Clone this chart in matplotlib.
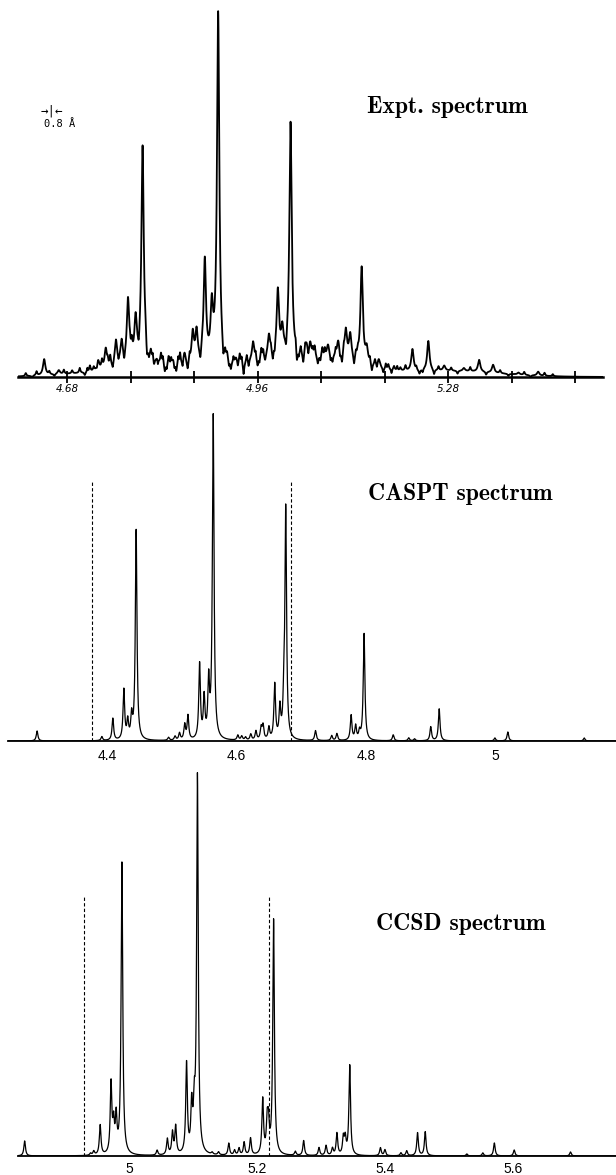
#! /usr/bin/env python

'''
Three stacked spectra: experiment, CASPT and CCSD.
Each spectrum is built as a sum of Lorentzian lines from peak tables
read off the original figure.
'''

import numpy as np
import matplotlib.pyplot as pl

#-----------------------------------------------------------------------------#
# Peak tables (position, height). Heights are in the plot's intensity units.
#-----------------------------------------------------------------------------#

expt_pos = [4.918, 4.799, 5.032, 5.144, 4.897, 4.908, 5.012, 4.776, 4.788,
            4.757, 4.766, 5.224, 5.249, 4.644, 5.329, 5.351, 4.878, 4.884,
            4.973, 4.998, 5.019, 5.119, 5.126, 5.152, 5.171, 5.063, 5.107,
            5.091, 5.057, 4.946, 4.865, 4.847, 4.822, 4.741, 4.729, 5.422,
            5.391, 5.274, 5.305, 4.667]
expt_amp = [350, 215, 235, 95, 100, 50, 65, 62, 40,
            25, 22, 22, 30, 16, 12, 8, 30, 30,
            20, 22, 24, 28, 24, 14, 8, 14, 16,
            12, 12, 6, 12, 6, 4, 20, 10, 4,
            2, 5, 3, 4]

# broad humps under the experimental lines (centre, height, sigma)
expt_bg_pos = [4.70, 4.80, 4.90, 5.00, 5.10, 5.28]
expt_bg_amp = [3, 14, 12, 16, 18, 6]
expt_bg_sig = [0.05, 0.04, 0.03, 0.04, 0.05, 0.08]

# small jagged features of the measured trace
jit_pos = [4.615, 4.625, 4.632, 4.652, 4.660, 4.675, 4.688, 4.700, 4.708,
           4.716, 4.722, 4.735, 4.748, 4.752, 4.770, 4.782, 4.793, 4.806,
           4.812, 4.817, 4.828, 4.834, 4.840, 4.852, 4.858, 4.870, 4.890,
           4.926, 4.932, 4.938, 4.952, 4.958, 4.963, 4.980, 4.986, 4.992,
           5.004, 5.025, 5.042, 5.048, 5.052, 5.070, 5.075, 5.082, 5.098,
           5.113, 5.132, 5.138, 5.160, 5.165, 5.178, 5.186, 5.195, 5.205,
           5.213, 5.235, 5.258, 5.265, 5.285, 5.295, 5.315, 5.340, 5.362,
           5.375, 5.400, 5.410, 5.432, 5.445]
jit_amp = [3, -2, 4, 3, -2, 4, 3, 5, -3,
           6, 4, 8, 10, -6, -8, 12, -10, -12,
           8, -6, 10, -8, 9, -7, 12, -9, -10,
           -14, 6, -8, 10, -12, 8, -8, 10, -6,
           -10, -12, -14, 8, -10, 10, -8, 9, -7,
           -10, -10, 6, -8, 6, -5, 5, 4, 3,
           5, -4, -5, 4, 3, -3, 4, -3, 3,
           -2, 3, -2, 3, 2]

# finer grain on top of the jagged features
grain_pos = [4.712, 4.727, 4.744, 4.761, 4.779, 4.803, 4.809, 4.815, 4.823,
             4.831, 4.837, 4.844, 4.849, 4.855, 4.862, 4.873, 4.893, 4.929,
             4.935, 4.942, 4.949, 4.955, 4.966, 4.977, 4.983, 4.989, 5.001,
             5.007, 5.040, 5.045, 5.055, 5.060, 5.067, 5.079, 5.086, 5.095,
             5.103, 5.110, 5.116, 5.135, 5.157, 5.168, 5.182, 5.191, 5.200,
             5.230, 5.240]
grain_amp = [4, -3, 5, -4, 6, 7, -5, 6, -6,
             7, -5, 6, -5, 8, -6, 7, 6, 5,
             -6, 6, -5, 7, -6, 6, -5, 7, 5,
             -6, 6, -5, 7, -6, 6, -5, 7, -6,
             6, -5, 6, 5, 5, -4, 5, -4, 4,
             3, -3]

caspt_pos = [4.564, 4.445, 4.676, 4.797, 4.543, 4.550, 4.557, 4.659, 4.667,
             4.673, 4.426, 4.432, 4.438, 4.409, 4.525, 4.520, 4.913, 4.900,
             4.777, 4.784, 4.722, 4.747, 4.755, 4.842, 5.019, 4.999, 5.137,
             4.292, 4.641, 4.638, 4.630, 4.602, 4.608, 4.614, 4.866, 4.875,
             4.392, 4.512, 4.505, 4.495, 4.622, 4.650, 4.790]
caspt_amp = [324, 210, 230, 107, 75, 40, 55, 55, 30,
             28, 50, 18, 22, 22, 24, 15, 32, 14,
             25, 14, 10, 5, 7, 6, 9, 3, 3,
             10, 14, 12, 9, 5, 4, 3, 3, 2,
             4, 7, 4, 3, 6, 12, 8]

ccsd_pos = [5.107, 4.989, 5.226, 5.345, 5.090, 5.098, 5.102, 4.972, 4.980,
            4.976, 4.955, 5.073, 5.068, 5.060, 5.209, 5.216, 5.218, 5.190,
            5.180, 5.156, 5.325, 5.335, 5.338, 5.273, 5.297, 5.308, 5.393,
            5.400, 5.451, 5.463, 5.434, 5.571, 5.602, 5.690, 4.837, 5.044,
            5.553, 5.528, 4.945, 4.940, 5.130, 5.140, 5.165, 5.172, 5.260,
            5.318, 5.425]
ccsd_amp = [378, 292, 235, 90, 90, 45, 40, 70, 35,
            28, 30, 28, 22, 16, 55, 30, 28, 17,
            13, 12, 22, 17, 16, 15, 8, 10, 8,
            6, 23, 24, 5, 13, 6, 4, 15, 5,
            3, 2, 4, 2, 2, 3, 5, 7, 4,
            7, 3]

# dashed reference lines (position, height)
caspt_dash = [4.377, 4.684]
caspt_dash_h = [261, 259]
ccsd_dash = [4.930, 5.2195]
ccsd_dash_h = [260, 260]

# tick positions and labels
expt_ticks = [4.68, 4.78, 4.88, 4.98, 5.08, 5.18, 5.28, 5.38, 5.48]
expt_labels = ['4.68', '', '', '4.96', '', '', '5.28', '', '']
caspt_ticks = [4.4, 4.6, 4.8, 5.0, 5.2]
caspt_labels = ['4.4', '4.6', '4.8', '5', '5.2']
ccsd_ticks = [5.0, 5.2, 5.4, 5.6]
ccsd_labels = ['5', '5.2', '5.4', '5.6']

#-----------------------------------------------------------------------------#

def lorentz(x, pos, amp, gamma):
    '''Sum of Lorentzian lines with a common half width gamma.'''
    y = np.zeros_like(x)
    for c, h in zip(pos, amp):
        y += h * gamma**2 / ((x - c)**2 + gamma**2)
    return y


def gauss(x, pos, amp, sig):
    '''Sum of broad Gaussian humps.'''
    y = np.zeros_like(x)
    for c, h, s in zip(pos, amp, sig):
        y += h * np.exp(-0.5 * ((x - c) / s)**2)
    return y


def clean_axes(ax):
    for side in ["top", "left", "right"]:
        ax.spines[side].set_visible(False)
    ax.set_yticks([])
    ax.patch.set_alpha(0)

#-----------------------------------------------------------------------------#

W, H = 616., 1175.
fig = pl.figure(figsize=(W / 100, H / 100), dpi=100)

# --- experimental spectrum ---
ax1 = fig.add_axes([18 / W, 1 - 377 / H, 585 / W, 377 / H])
x1 = np.linspace(4.6028, 5.5241, 9000)
y1 = (lorentz(x1, expt_pos, expt_amp, 0.0022)
      + gauss(x1, expt_bg_pos, expt_bg_amp, expt_bg_sig)
      + lorentz(x1, jit_pos, jit_amp, 0.0012)
      + lorentz(x1, grain_pos, grain_amp, 0.0008))
y1 = np.clip(y1, 0, None)
ax1.plot(x1, y1, color="black", lw=1.3)
ax1.set_xlim(4.6028, 5.5241)
ax1.set_ylim(0, 377)
clean_axes(ax1)
ax1.spines["bottom"].set_linewidth(1.8)
ax1.set_xticks(expt_ticks)
ax1.set_xticklabels(expt_labels, fontsize=7.5, style="italic",
                    family=["Liberation Sans Narrow", "DejaVu Sans"])
ax1.tick_params(axis="x", direction="inout", length=8, width=1.3, pad=1)

# --- CASPT spectrum ---
ax2 = fig.add_axes([8 / W, 1 - 741 / H, 622 / W, 346 / H])
x2 = np.linspace(4.2471, 5.2077, 9000)
y2 = lorentz(x2, caspt_pos, caspt_amp, 0.0015)
ax2.plot(x2, y2, color="black", lw=0.9)
ax2.vlines(caspt_dash, 0, caspt_dash_h, colors="black", lw=0.8,
           linestyles=(0, (3, 2)))
ax2.set_xlim(4.2471, 5.2077)
ax2.set_ylim(0, 346)
clean_axes(ax2)
ax2.spines["bottom"].set_linewidth(1.3)
ax2.set_xticks(caspt_ticks)
ax2.set_xticklabels(caspt_labels, fontsize=10, family="Liberation Sans")
ax2.tick_params(axis="x", length=0, pad=6)

# --- CCSD spectrum ---
ax3 = fig.add_axes([18 / W, 1 - 1156 / H, 612 / W, 386 / H])
x3 = np.linspace(4.8266, 5.783, 9000)
y3 = lorentz(x3, ccsd_pos, ccsd_amp, 0.0015)
ax3.plot(x3, y3, color="black", lw=0.9)
ax3.vlines(ccsd_dash, 0, ccsd_dash_h, colors="black", lw=0.8,
           linestyles=(0, (3, 2)))
ax3.set_xlim(4.8266, 5.783)
ax3.set_ylim(0, 386)
clean_axes(ax3)
ax3.spines["bottom"].set_linewidth(1.3)
ax3.set_xticks(ccsd_ticks)
ax3.set_xticklabels(ccsd_labels, fontsize=10, family="Liberation Sans")
ax3.tick_params(axis="x", length=0, pad=4)

# --- panel titles and scale mark ---
title_font = dict(fontsize=17, family=["cmb10", "DejaVu Serif"],
                  va="baseline")
fig.text(367 / W, 1 - 113 / H, "Expt. spectrum", **title_font)
fig.text(368 / W, 1 - 500 / H, "CASPT spectrum", **title_font)
fig.text(376 / W, 1 - 930 / H, "CCSD spectrum", **title_font)
fig.text(41 / W, 1 - 111 / H, "\u2192|\u2190", va="center", fontsize=9,
         family="DejaVu Sans Mono")
fig.text(44 / W, 1 - 124 / H, "0.8 \u00c5", va="center", fontsize=7.5,
         family="DejaVu Sans Mono")

fig.savefig("out.png", dpi=100)
